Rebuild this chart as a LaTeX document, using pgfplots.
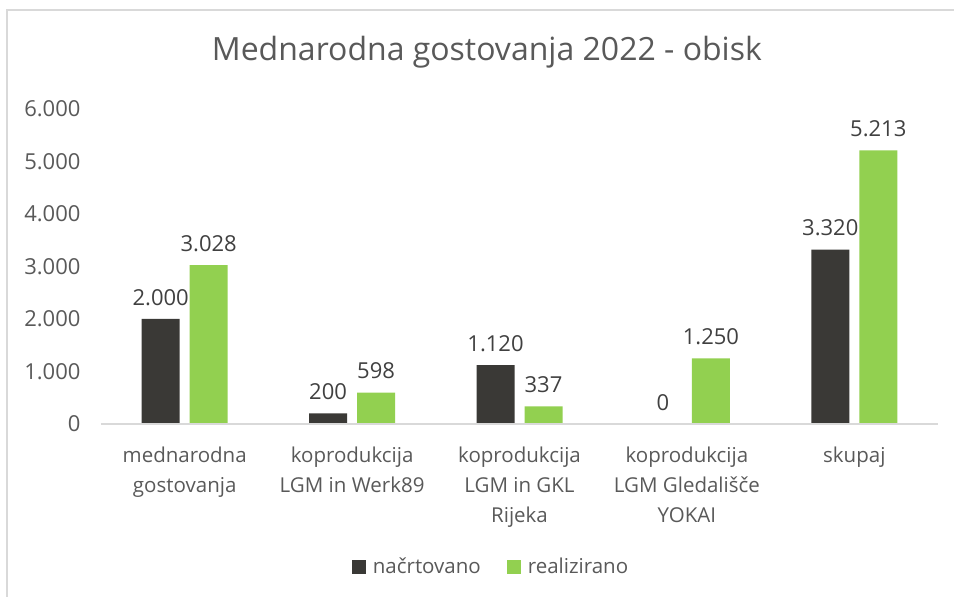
\documentclass[border=0pt]{standalone}
\usepackage{pgfplots}
\pgfplotsset{compat=1.18}
\usepackage{fontspec}
\setmainfont{Open Sans}
\definecolor{darkbar}{HTML}{3A3936}
\definecolor{greenbar}{HTML}{92D050}
\definecolor{txt}{HTML}{595959}
\definecolor{lbl}{HTML}{404040}
\definecolor{frame}{HTML}{D9D9D9}
\begin{document}
\begin{tikzpicture}[x=1pt,y=1pt]
\useasboundingbox (0,0) rectangle (954,597);
\draw[frame, line width=1.5pt] (7,0) -- (7,587) -- (954,587);
\begin{axis}[
  at={(101pt,173pt)}, anchor=south west,
  scale only axis, width=837pt, height=315pt,
  xmin=-0.5, xmax=4.5, ymin=0, ymax=6000,
  ybar=10pt, bar width=38pt,
  axis on top,
  xtick=data,
  xticklabels={{mednarodna\\gostovanja},{koprodukcija\\LGM in Werk89},{koprodukcija\\LGM in GKL\\Rijeka},{koprodukcija\\LGM Gledališče\\YOKAI},{skupaj}},
  ytick={0,1000,...,6000},
  /pgf/number format/.cd, 1000 sep={.}, assume math mode=true, /pgfplots/.cd,
  scaled y ticks=false,
  major tick length=0pt,
  axis x line*=bottom, axis y line*=left,
  x axis line style={frame, line width=1.3pt},
  y axis line style={draw=none},
  axis line style={-},
  xticklabel style={font=\fontsize{20.5}{30}\selectfont, text=txt, align=center, yshift=-19pt},
  yticklabel style={font=\fontsize{22}{26}\selectfont, text=txt, xshift=-17pt},
  nodes near coords,
  every node near coord/.append style={font=\fontsize{22}{26}\selectfont, text=lbl, yshift=10pt},
  title={Mednarodna gostovanja 2022 - obisk},
  title style={at={(0.461,1.161)}, anchor=center, font=\fontsize{32}{38}\selectfont, text=txt},
  legend style={at={(0.466,-0.4525)}, anchor=center, draw=none, legend columns=2,
    font=\fontsize{20.5}{26}\selectfont, text=txt,
    /tikz/every odd column/.append style={column sep=5pt},
    /tikz/every even column/.append style={column sep=24pt}},
  legend image code/.code={\fill[#1] (0pt,-7pt) rectangle (14pt,7pt);},
]
\addplot[fill=darkbar, draw=none] coordinates {(0,2000) (1,200) (2,1120) (3,0) (4,3320)};
\addlegendentry{načrtovano}
\addplot[fill=greenbar, draw=none] coordinates {(0,3028) (1,598) (2,337) (3,1250) (4,5213)};
\addlegendentry{realizirano}
\end{axis}
\end{tikzpicture}
\end{document}
